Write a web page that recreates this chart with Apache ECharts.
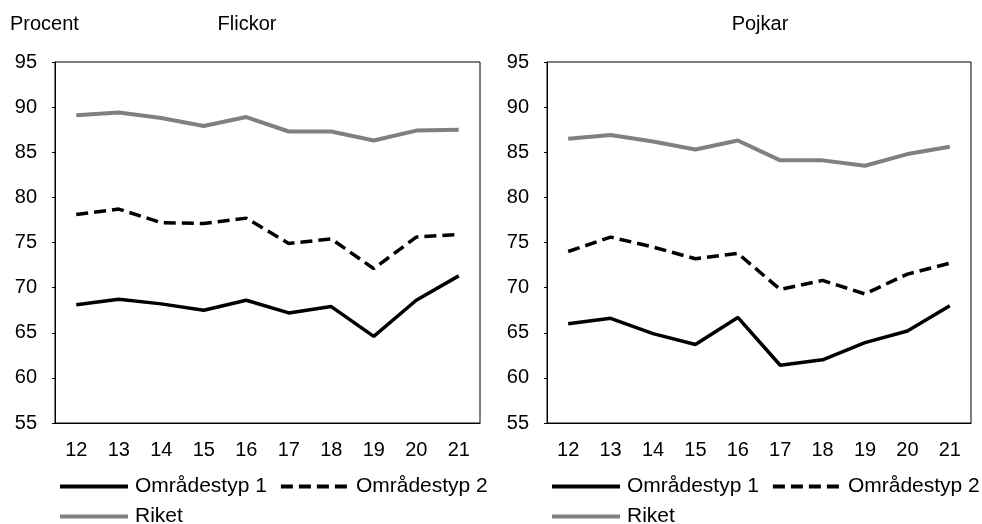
<!DOCTYPE html>
<html>
<head>
<meta charset="utf-8">
<script src="https://cdn.jsdelivr.net/npm/echarts@6/dist/echarts.min.js"></script>
<style>
html,body{margin:0;padding:0;background:#fff;}
#chart{width:982px;height:524px;}
</style>
</head>
<body>
<div id="chart"></div>
<script>
const categories = ['12','13','14','15','16','17','18','19','20','21'];
const flickorTyp1 = [68.1, 68.7, 68.2, 67.5, 68.6, 67.2, 67.9, 64.6, 68.6, 71.3];
const flickorTyp2 = [78.1, 78.7, 77.2, 77.1, 77.7, 74.9, 75.4, 72.1, 75.6, 75.9];
const flickorRiket = [89.1, 89.4, 88.8, 87.9, 88.9, 87.3, 87.3, 86.3, 87.4, 87.5];
const pojkarTyp1 = [66.0, 66.6, 64.9, 63.7, 66.7, 61.4, 62.0, 63.9, 65.2, 68.0];
const pojkarTyp2 = [74.0, 75.6, 74.5, 73.2, 73.8, 69.8, 70.8, 69.3, 71.5, 72.7];
const pojkarRiket = [86.5, 86.9, 86.2, 85.3, 86.3, 84.1, 84.1, 83.5, 84.8, 85.6];
const yTicks = {min: 55, max: 95, interval: 5};
const names = ['Områdestyp 1', 'Områdestyp 2', 'Riket'];

const FONT = 'Liberation Sans, Arial, sans-serif';
const chart = echarts.init(document.getElementById('chart'), null, {renderer: 'canvas'});

const grids = [
  {left: 55, top: 62, width: 425, height: 361, show: true, borderColor: '#000', borderWidth: 1},
  {left: 547, top: 62, width: 424, height: 361, show: true, borderColor: '#000', borderWidth: 1}
];

function xAxes(gi) {
  return [
    {
      type: 'category', gridIndex: gi, data: categories, boundaryGap: true,
      axisLine: {lineStyle: {color: '#000', width: 1}},
      axisTick: {inside: true, length: 6, lineStyle: {color: '#000'}},
      axisLabel: {color: '#000', fontSize: 20, fontFamily: FONT, margin: 17}
    },
    {
      type: 'category', gridIndex: gi, data: categories, boundaryGap: true, position: 'bottom',
      axisLine: {show: false},
      axisTick: {inside: false, length: 6, lineStyle: {color: '#000'}},
      axisLabel: {show: false}
    }
  ];
}
function yAxis(gi) {
  return {
    type: 'value', gridIndex: gi, min: yTicks.min, max: yTicks.max, interval: yTicks.interval,
    splitLine: {show: false},
    axisLine: {show: true, lineStyle: {color: '#000', width: 1}},
    axisTick: {show: true, length: 3, lineStyle: {color: '#000'}},
    axisLabel: {color: '#000', fontSize: 20, fontFamily: FONT, margin: 18}
  };
}

function seriesFor(gi, d1, d2, dr) {
  const xi = gi * 2;
  return [
    {name: names[0], type: 'line', xAxisIndex: xi, yAxisIndex: gi, data: d1, symbol: 'none',
     lineStyle: {color: '#000', width: 3.5}, itemStyle: {color: '#000'}, z: 3},
    {name: names[1], type: 'line', xAxisIndex: xi, yAxisIndex: gi, data: d2, symbol: 'none',
     lineStyle: {color: '#000', width: 3.5, type: [12, 6]}, itemStyle: {color: '#000'}, z: 3},
    {name: names[2], type: 'line', xAxisIndex: xi, yAxisIndex: gi, data: dr, symbol: 'none',
     lineStyle: {color: '#808080', width: 4}, itemStyle: {color: '#808080'}, z: 2}
  ];
}

const legendCommon = {
  orient: 'horizontal', itemWidth: 68, itemHeight: 20, itemGap: 12,
  itemStyle: {opacity: 0, borderWidth: 0},
  lineStyle: {width: 4},
  textStyle: {color: '#000', fontSize: 21, fontFamily: FONT, padding: [0, 0, 0, 2]},
  selectedMode: false, padding: 0
};

const option = {
  backgroundColor: '#fff',
  animation: false,
  title: [
    {text: 'Procent', left: 10, top: 14, textStyle: {color: '#000', fontSize: 20, fontWeight: 'normal', fontFamily: FONT}, padding: 0},
    {text: 'Flickor', left: 247, top: 14, textAlign: 'center', textStyle: {color: '#000', fontSize: 20, fontWeight: 'normal', fontFamily: FONT}, padding: 0},
    {text: 'Pojkar', left: 760, top: 14, textAlign: 'center', textStyle: {color: '#000', fontSize: 20, fontWeight: 'normal', fontFamily: FONT}, padding: 0}
  ],
  grid: grids,
  xAxis: [...xAxes(0), ...xAxes(1)],
  yAxis: [yAxis(0), yAxis(1)],
  legend: [
    Object.assign({}, legendCommon, {left: 58, top: 476, data: [names[0], names[1]]}),
    Object.assign({}, legendCommon, {left: 58, top: 506, data: [names[2]]}),
    Object.assign({}, legendCommon, {left: 550, top: 476, data: [names[0], names[1]]}),
    Object.assign({}, legendCommon, {left: 550, top: 506, data: [names[2]]})
  ],
  series: [
    ...seriesFor(0, flickorTyp1, flickorTyp2, flickorRiket),
    ...seriesFor(1, pojkarTyp1, pojkarTyp2, pojkarRiket)
  ]
};
chart.setOption(option);
</script>
</body>
</html>
